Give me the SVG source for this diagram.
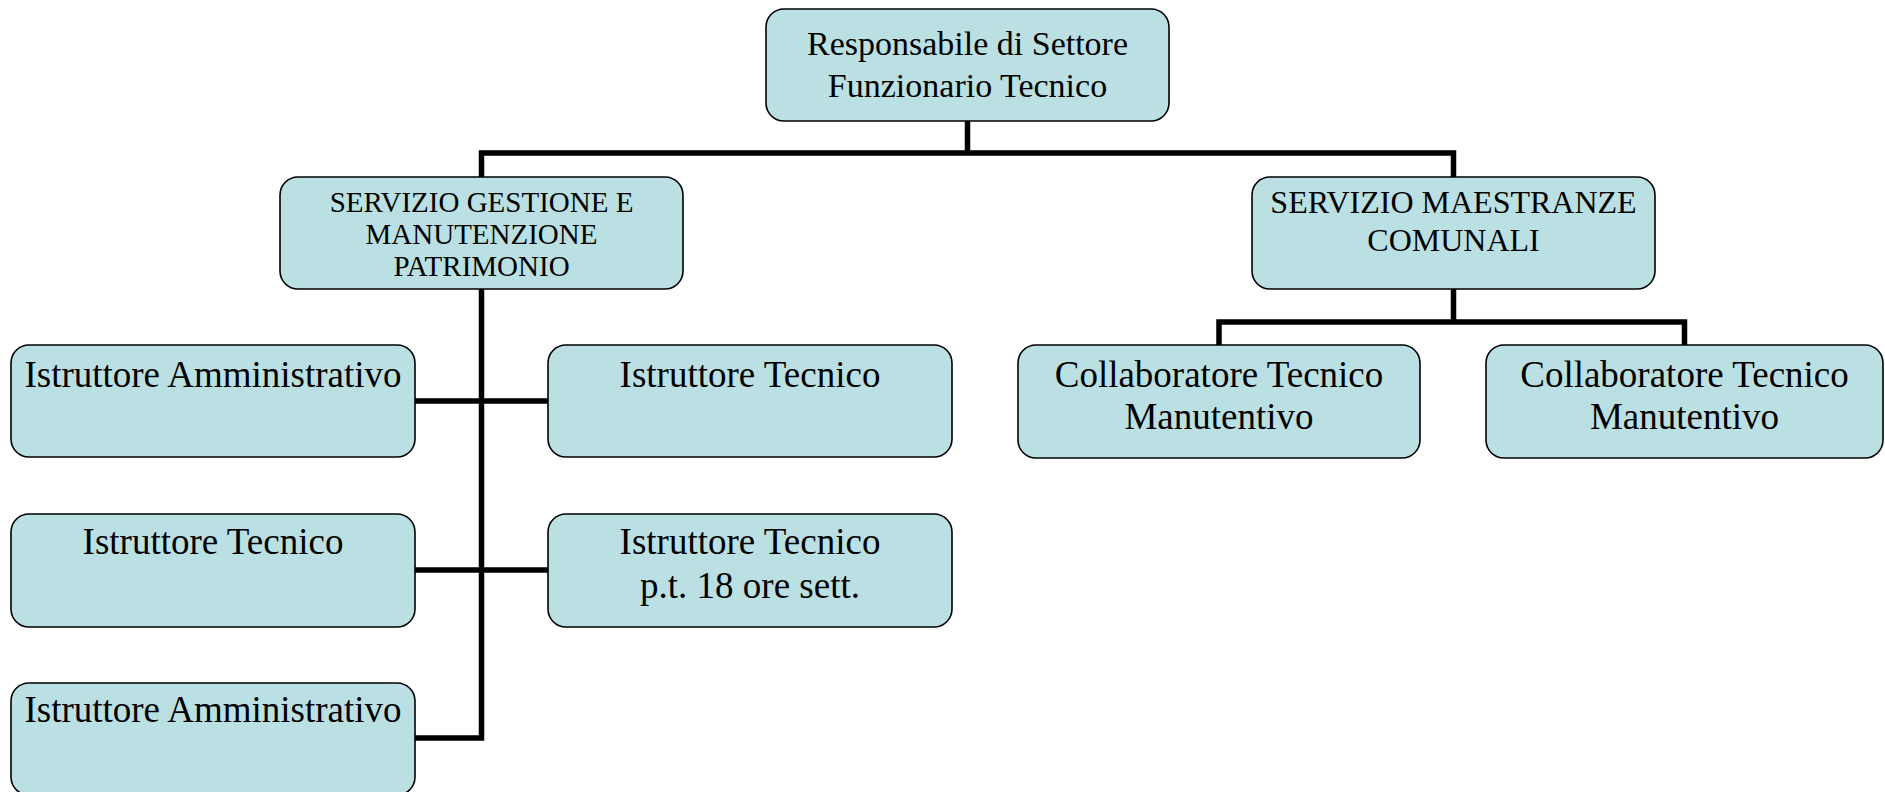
<svg xmlns="http://www.w3.org/2000/svg" width="1885" height="792" viewBox="0 0 1885 792">
<style>
.box{fill:#BBE0E3;stroke:#000;stroke-width:1.6}
.t{font-family:"Liberation Serif","Times New Roman",serif;fill:#000;text-anchor:middle}
.big{font-size:37px}
.top{font-size:34px}
.s1{font-size:29px}
.s2{font-size:32px}
.con{stroke:#000;stroke-width:5.5;fill:none;stroke-linecap:butt;stroke-linejoin:miter}
</style>
<rect width="1885" height="792" fill="#fff"/>
<g id="connectors">
<path class="con" d="M967.5 121V153M481.5 177V153H1453.5V177"/>
<path class="con" d="M481.5 289V738H415M415 401H548M415 570H548"/>
<path class="con" d="M1453.5 289V322M1219 345V322H1684.5V345"/>
</g>
<g id="n-responsabile">
<rect class="box" x="766" y="9" width="403" height="112" rx="18"/>
<text class="t top" x="967.5" y="55">Responsabile di Settore</text>
<text class="t top" x="967.5" y="97">Funzionario Tecnico</text>
</g>
<g id="n-servizio-gestione">
<rect class="box" x="280" y="177" width="403" height="112" rx="18"/>
<text class="t s1" x="481.5" y="212">SERVIZIO GESTIONE E</text>
<text class="t s1" x="481.5" y="244">MANUTENZIONE</text>
<text class="t s1" x="481.5" y="276">PATRIMONIO</text>
</g>
<g id="n-servizio-maestranze">
<rect class="box" x="1252" y="177" width="403" height="112" rx="18"/>
<text class="t s2" x="1453.5" y="213">SERVIZIO MAESTRANZE</text>
<text class="t s2" x="1453.5" y="251">COMUNALI</text>
</g>
<g id="n-istr-amm-1">
<rect class="box" x="11" y="345" width="404" height="112" rx="18"/>
<text class="t big" x="213" y="387">Istruttore Amministrativo</text>
</g>
<g id="n-istr-tec-1">
<rect class="box" x="548" y="345" width="404" height="112" rx="18"/>
<text class="t big" x="750" y="387">Istruttore Tecnico</text>
</g>
<g id="n-istr-tec-2">
<rect class="box" x="11" y="514" width="404" height="113" rx="18"/>
<text class="t big" x="213" y="554">Istruttore Tecnico</text>
</g>
<g id="n-istr-tec-pt">
<rect class="box" x="548" y="514" width="404" height="113" rx="18"/>
<text class="t big" x="750" y="554">Istruttore Tecnico</text>
<text class="t big" x="750" y="598">p.t. 18 ore sett.</text>
</g>
<g id="n-istr-amm-2">
<rect class="box" x="11" y="683" width="404" height="112" rx="18"/>
<text class="t big" x="213" y="722">Istruttore Amministrativo</text>
</g>
<g id="n-collab-1">
<rect class="box" x="1018" y="345" width="402" height="113" rx="18"/>
<text class="t big" x="1219" y="387">Collaboratore Tecnico</text>
<text class="t big" x="1219" y="429">Manutentivo</text>
</g>
<g id="n-collab-2">
<rect class="box" x="1486" y="345" width="397" height="113" rx="18"/>
<text class="t big" x="1684.5" y="387">Collaboratore Tecnico</text>
<text class="t big" x="1684.5" y="429">Manutentivo</text>
</g>
</svg>
